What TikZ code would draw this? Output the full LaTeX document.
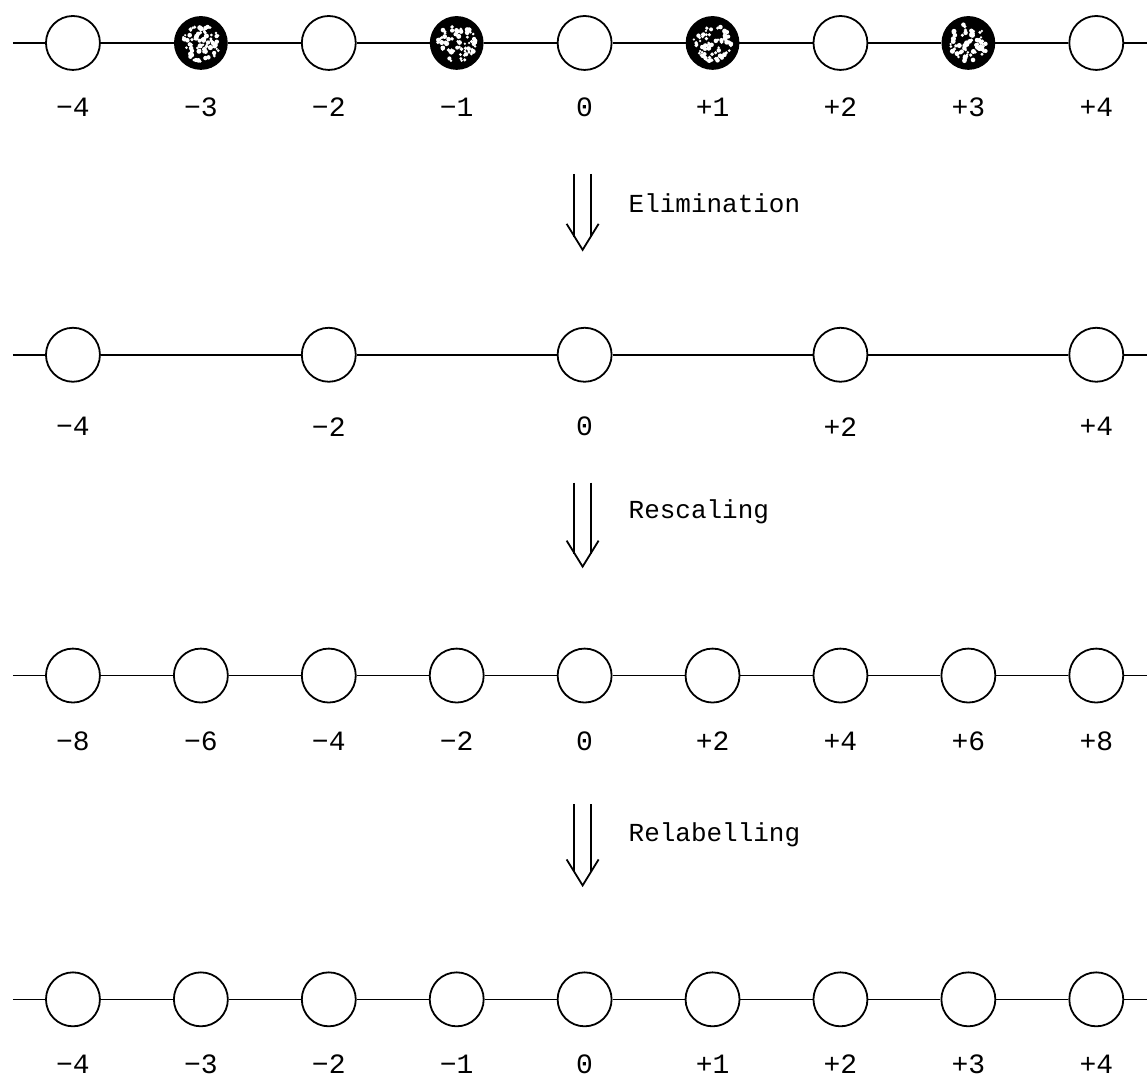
\documentclass[tikz,border=0pt]{standalone}
\usepackage{fontspec}
\newfontfamily\typefont{Liberation Mono}
\usetikzlibrary{positioning}

\tikzset{
    site/.style={circle,draw,line width=0.9pt,minimum size=27pt,inner sep=0pt,fill=white},
    darksite/.style={site,fill=black,minimum size=26pt},
    bond/.style={line width=0.75pt},
    numlab/.style={font=\typefont\fontsize{14}{14}\selectfont},
    steplab/.style={font=\typefont\fontsize{13}{13}\selectfont,anchor=west},
    shaft/.style={line width=0.9pt,line join=miter}
}

% label of a site: +k, 0 or -k
\newcommand{\sitelab}[1]{\ifnum#1>0 +#1\else\ifnum#1<0 −\the\numexpr 0-(#1)\relax\else 0\fi\fi}

\begin{document}
\begin{tikzpicture}[x=0.5pt,y=-0.5pt]
        % Background
        \path[fill=white] (0,0) rectangle (1148,1076);

        % Row 1: full chain, odd sites dark
        \coordinate (s1) at (13,43);
        \coordinate (e1) at (1148,43);
        \foreach \k in {-4,...,4} {
            \ifodd\k \def\sty{darksite}\else \def\sty{site}\fi
            \node[\sty] (p\k) at (585+128*\k,43) {};
            \node[numlab] (lp\k) at (585+128*\k,107) {\sitelab{\k}};
        }
        \draw[bond] (s1) -- (p-4);
        \foreach \k [evaluate=\k as \j using int(\k+1)] in {-4,...,3}
            \draw[bond] (p\k) -- (p\j);
        \draw[bond] (p4) -- (e1);
        % speckles on the dark sites
        \foreach \k in {-3,-1,1,3} {
            \pgfmathsetseed{\k+20}
            \foreach \n in {1,...,75} {
                \pgfmathsetmacro\rr{19*sqrt(rnd)}
                \pgfmathsetmacro\aa{360*rnd}
                \pgfmathsetmacro\ds{0.6+0.7*rnd}
                \fill[white] (p\k) ++(\aa:\rr) circle (\ds pt);
            }
        }

        % Row 2: even sites only
        \coordinate (s2) at (13,355);
        \coordinate (e2) at (1148,355);
        \foreach \k in {-4,-2,0,2,4} {
            \node[site] (q\k) at (585+128*\k,355) {};
            \node[numlab] (lq\k) at (585+128*\k,427) {\sitelab{\k}};
        }
        \draw[bond] (s2) -- (q-4);
        \foreach \k [evaluate=\k as \j using int(\k+2)] in {-4,-2,0,2}
            \draw[bond] (q\k) -- (q\j);
        \draw[bond] (q4) -- (e2);

        % Row 3: rescaled chain
        \coordinate (s3) at (13,676);
        \coordinate (e3) at (1148,676);
        \foreach \k in {-4,...,4} {
            \pgfmathtruncatemacro\v{2*\k}
            \node[site] (r\k) at (585+128*\k,676) {};
            \node[numlab] (lr\k) at (585+128*\k,742) {\sitelab{\v}};
        }
        \draw[bond] (s3) -- (r-4);
        \foreach \k [evaluate=\k as \j using int(\k+1)] in {-4,...,3}
            \draw[bond] (r\k) -- (r\j);
        \draw[bond] (r4) -- (e3);

        % Row 4: relabelled chain
        \coordinate (s4) at (13,1000);
        \coordinate (e4) at (1148,1000);
        \foreach \k in {-4,...,4} {
            \node[site] (t\k) at (585+128*\k,1000) {};
            \node[numlab] (lt\k) at (585+128*\k,1065) {\sitelab{\k}};
        }
        \draw[bond] (s4) -- (t-4);
        \foreach \k [evaluate=\k as \j using int(\k+1)] in {-4,...,3}
            \draw[bond] (t\k) -- (t\j);
        \draw[bond] (t4) -- (e4);

        % Steps: double arrows with their names
        \foreach \top/\tip/\txt/\ty in {174/250/Elimination/203,
                                        483/567/Rescaling/512,
                                        805/886/Relabelling/835} {
            \draw[shaft] (574.5,\top) -- (574.5,\tip-13);
            \draw[shaft] (591.5,\top) -- (591.5,\tip-13);
            \draw[shaft] (567,\tip-26) -- (583,\tip) -- (599,\tip-26);
            \node[steplab] at (622,\ty) {\txt};
        }

    \end{tikzpicture}
\end{document}
